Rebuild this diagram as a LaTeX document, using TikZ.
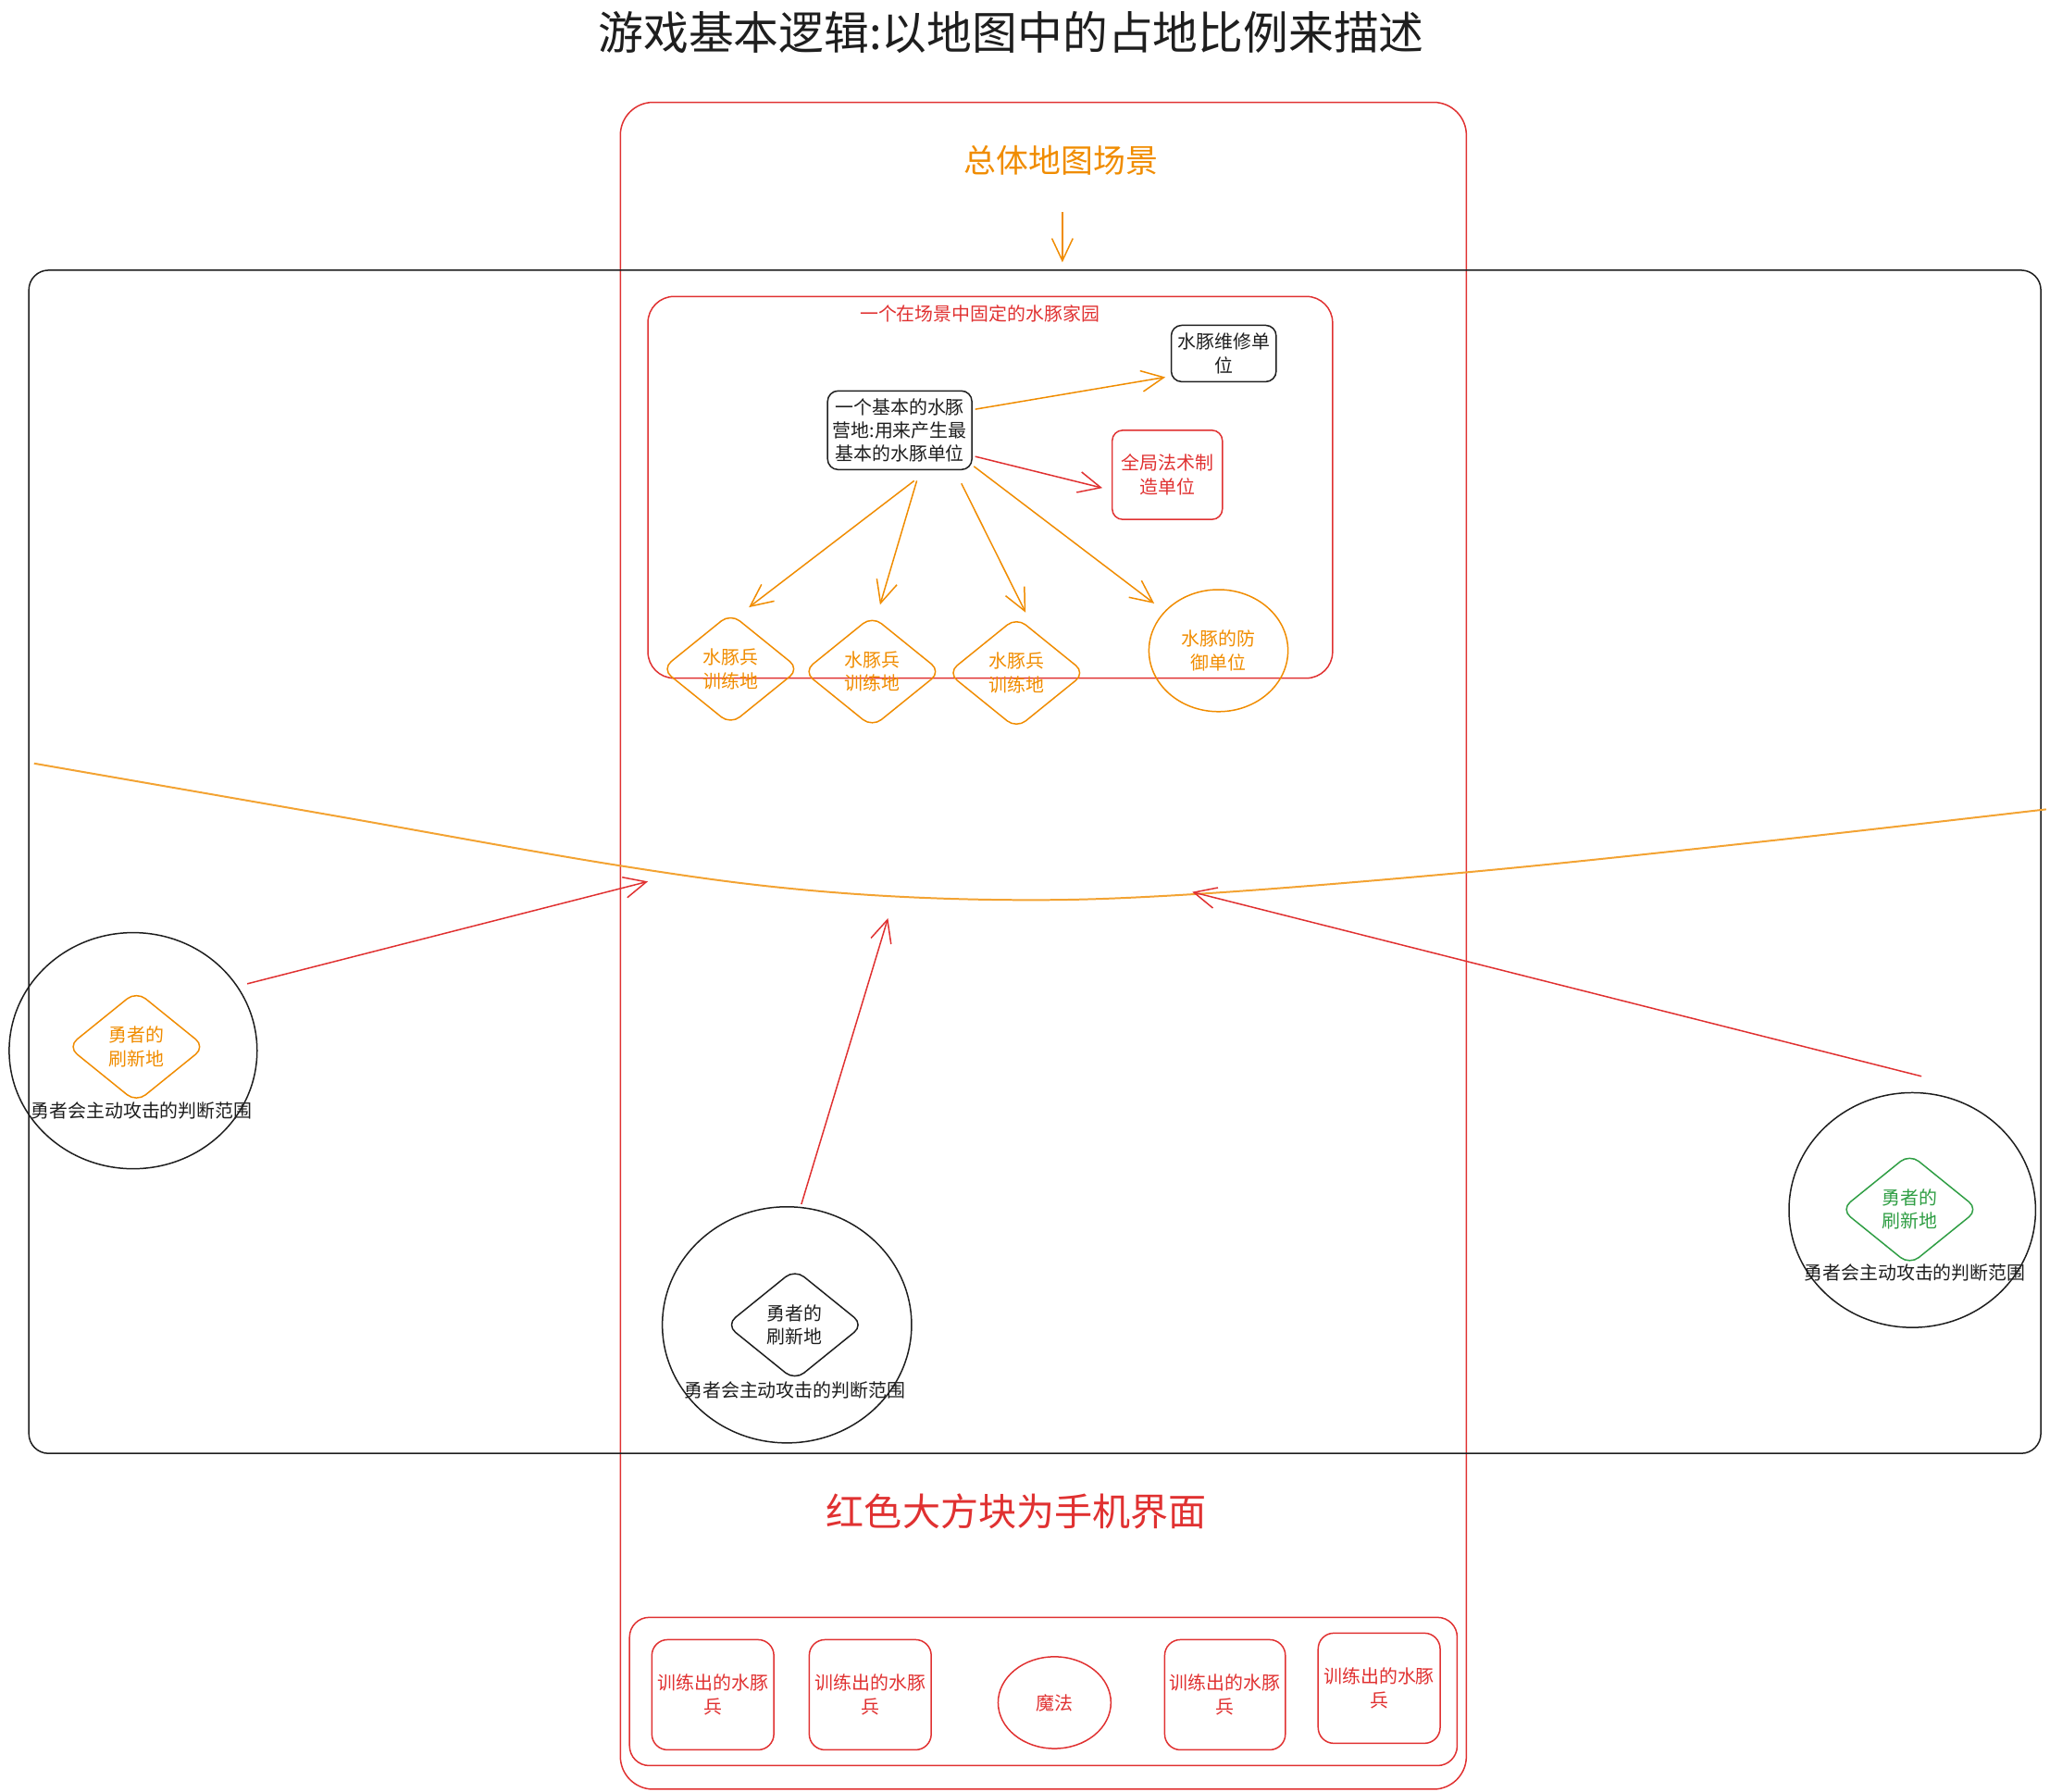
\documentclass[tikz,border=0pt]{standalone}
\usepackage{fontspec}
\setmainfont{Noto Sans CJK SC}
\usetikzlibrary{shapes.geometric,arrows.meta,calc}

\definecolor{inkred}{HTML}{E03131}
\definecolor{inkorange}{HTML}{F08C00}
\definecolor{inkgreen}{HTML}{2F9E44}
\definecolor{inkblack}{HTML}{1E1E1E}

\tikzset{
  frame/.style={line width=0.6pt},
  box/.style={draw, rectangle, rounded corners=1.6mm, line width=0.6pt, inner sep=0pt},
  gem/.style={draw, diamond, rounded corners=1.8mm, line width=0.6pt, inner sep=0pt,
    minimum width=21mm, minimum height=17mm},
  ring/.style={draw, ellipse, line width=0.6pt, inner sep=0pt},
  link/.style={line width=0.6pt, -{Straight Barb[length=3.4mm,width=3.2mm]}},
}

\begin{document}
\begin{tikzpicture}[x=0.2mm, y=-0.2mm,
  every node/.style={font=\fontsize{8}{10.2}\selectfont, align=center, text=inkblack}]
\useasboundingbox (0,0) rectangle (1563,1366);

% title
\node[font=\fontsize{19.6}{22}\selectfont] (title) at (771,25) {游戏基本逻辑:以地图中的占地比例来描述};

% phone screen and map
\draw[frame, inkred, rounded corners=5mm] (473,78) rectangle (1118,1364);
\draw[frame, inkblack, rounded corners=3mm] (22,206) rectangle (1556,1108);
\node[text=inkorange, font=\fontsize{14}{16}\selectfont] (overview) at (809,122) {总体地图场景};
\coordinate (mapTop) at (810,200);
\draw[link, inkorange] ($(overview.south)+(1,22)$) -- (mapTop);

% home base
\draw[frame, inkred, rounded corners=4mm] (494,226) rectangle (1016,517);
\node[text=inkred] (homeLabel) at (747,239) {一个在场景中固定的水豚家园};

\node[box, inkblack, minimum width=22mm, minimum height=12mm] (camp) at (686,328)
  {一个基本的水豚\\营地:用来产生最\\基本的水豚单位};
\node[box, inkblack, minimum width=16mm, minimum height=8.6mm] (repair) at (933,269.5)
  {水豚维修单\\位};
\node[box, inkred, text=inkred, minimum width=16.8mm, minimum height=13.6mm] (spell) at (890,362)
  {全局法术制\\造单位};

\node[gem, inkorange, text=inkorange] (trainA) at (557,510) {水豚兵\\训练地};
\node[gem, inkorange, text=inkorange] (trainB) at (665,512) {水豚兵\\训练地};
\node[gem, inkorange, text=inkorange] (trainC) at (775,513) {水豚兵\\训练地};
\node[ring, inkorange, text=inkorange, minimum width=21.2mm, minimum height=18.6mm] (defense) at (929,496)
  {水豚的防\\御单位};

\draw[link, inkorange] ($(camp.east)+(2,-16)$) -- ($(repair.south west)+(-4,-4)$);
\draw[link, inkred] ($(camp.east)+(2,20)$) -- ($(spell.west)+(-7,10)$);
\draw[link, inkorange] ($(camp.south)+(11,8)$) -- ($(trainA.north)+(14,-4)$);
\draw[link, inkorange] ($(camp.south)+(13,8)$) -- ($(trainB.north)+(6,-8)$);
\draw[link, inkorange] ($(camp.south)+(47,10)$) -- ($(trainC.north)+(7,-3)$);
\draw[link, inkorange] ($(camp.south east)+(1,-3)$) -- ($(defense.center)+(-49,-36)$);

% front line
\draw[inkorange!80, line width=0.8pt] plot[smooth, tension=0.6] coordinates
  {(26,582) (250,621) (473,660) (620,679) (765,686) (905,682) (1118,665) (1340,642) (1560,617)};

% hero spawn zones
\node[ring, inkblack, minimum width=37.8mm, minimum height=36mm] (zoneL) at (101.5,801) {};
\node[gem, inkorange, text=inkorange] (spawnL) at (104,798) {勇者的\\刷新地};
\node (rangeL) at (108,847) {勇者会主动攻击的判断范围};

\node[ring, inkblack, minimum width=38mm, minimum height=36mm] (zoneB) at (600,1010) {};
\node[gem, inkblack] (spawnB) at (606,1010) {勇者的\\刷新地};
\node (rangeB) at (606,1060) {勇者会主动攻击的判断范围};

\node[ring, inkblack, minimum width=37.6mm, minimum height=35.8mm] (zoneR) at (1458,922.5) {};
\node[gem, inkgreen, text=inkgreen] (spawnR) at (1456,922) {勇者的\\刷新地};
\node (rangeR) at (1460,970) {勇者会主动攻击的判断范围};

\coordinate (hitL) at (494,672);
\coordinate (hitB) at (677,700);
\coordinate (hitR) at (909,680);
\draw[link, inkred] ($(zoneL.center)+(87,-51)$) -- (hitL);
\draw[link, inkred] ($(zoneB.center)+(11,-92)$) -- (hitB);
\draw[link, inkred] ($(zoneR.center)+(7,-102)$) -- (hitR);

\node[text=inkred, font=\fontsize{16.5}{19}\selectfont] (note) at (775,1152) {红色大方块为手机界面};

% toolbar
\draw[frame, inkred, rounded corners=3mm] (480,1233) rectangle (1111,1346);
\node[box, inkred, text=inkred, rounded corners=2.4mm, minimum width=18.6mm, minimum height=16.8mm] (unitA) at (543.5,1292) {训练出的水豚\\兵};
\node[box, inkred, text=inkred, rounded corners=2.4mm, minimum width=18.6mm, minimum height=16.8mm] (unitB) at (663.5,1292) {训练出的水豚\\兵};
\node[ring, inkred, text=inkred, minimum width=17.2mm, minimum height=14mm] (magic) at (804,1298) {魔法};
\node[box, inkred, text=inkred, rounded corners=2.4mm, minimum width=18.4mm, minimum height=16.8mm] (unitC) at (934,1292) {训练出的水豚\\兵};
\node[box, inkred, text=inkred, rounded corners=2.4mm, minimum width=18.6mm, minimum height=16.8mm] (unitD) at (1051.5,1287) {训练出的水豚\\兵};
\end{tikzpicture}
\end{document}
